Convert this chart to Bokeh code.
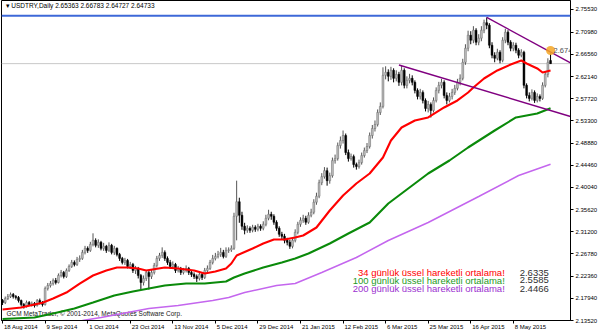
from bokeh.plotting import figure
from bokeh.models import Range1d, FixedTicker, PrintfTickFormatter, Label, Span, ColumnDataSource, LinearAxis
from bokeh.embed import file_html
from bokeh.resources import INLINE
from bokeh.core.properties import value

# ---------------- data ----------------
date_labels = ["18 Aug 2014", "9 Sep 2014", "1 Oct 2014", "23 Oct 2014", "13 Nov 2014",
               "5 Dec 2014", "29 Dec 2014", "21 Jan 2015", "12 Feb 2015", "6 Mar 2015",
               "25 Mar 2015", "16 Apr 2015", "8 May 2015"]
date_label_bars = [0, 16, 32, 48, 64, 80, 96, 112, 128, 144, 160, 176, 192]

price_ticks = [2.13520, 2.17940, 2.22360, 2.26780, 2.31200, 2.35620, 2.40040, 2.44460,
               2.48880, 2.53300, 2.57720, 2.62140, 2.66560, 2.70980, 2.75530]

opens = [
    2.175, 2.171, 2.179, 2.183, 2.187, 2.183, 2.181, 2.175, 2.167, 2.163,
    2.171, 2.167, 2.169, 2.165, 2.175, 2.171, 2.167, 2.199, 2.205, 2.209,
    2.215, 2.211, 2.225, 2.231, 2.223, 2.235, 2.243, 2.251, 2.247, 2.257,
    2.259, 2.271, 2.279, 2.275, 2.287, 2.295, 2.285, 2.291, 2.279, 2.283,
    2.275, 2.285, 2.271, 2.279, 2.267, 2.259, 2.251, 2.255, 2.243, 2.247,
    2.235, 2.239, 2.225, 2.211, 2.219, 2.231, 2.223, 2.231, 2.245, 2.259,
    2.265, 2.271, 2.259, 2.251, 2.243, 2.247, 2.235, 2.239, 2.231, 2.235,
    2.239, 2.231, 2.227, 2.223, 2.219, 2.227, 2.221, 2.235, 2.239, 2.251,
    2.259, 2.263, 2.267, 2.271, 2.263, 2.275, 2.276, 2.279, 2.343, 2.372,
    2.345, 2.323, 2.315, 2.319, 2.315, 2.321, 2.317, 2.323, 2.319, 2.327,
    2.339, 2.347, 2.343, 2.331, 2.319, 2.307, 2.303, 2.295, 2.291, 2.283,
    2.295, 2.311, 2.327, 2.335, 2.339, 2.331, 2.345, 2.351, 2.371, 2.383,
    2.410, 2.422, 2.434, 2.414, 2.424, 2.454, 2.458, 2.484, 2.494, 2.504,
    2.470, 2.458, 2.462, 2.446, 2.442, 2.450, 2.464, 2.474, 2.482, 2.504,
    2.518, 2.526, 2.550, 2.562, 2.624, 2.630, 2.622, 2.634, 2.618, 2.626,
    2.610, 2.634, 2.604, 2.614, 2.618, 2.610, 2.594, 2.582, 2.590, 2.574,
    2.558, 2.566, 2.554, 2.574, 2.594, 2.604, 2.610, 2.584, 2.574, 2.582,
    2.590, 2.598, 2.610, 2.618, 2.650, 2.678, 2.704, 2.694, 2.714, 2.690,
    2.698, 2.714, 2.729, 2.724, 2.684, 2.664, 2.658, 2.670, 2.654, 2.694,
    2.710, 2.690, 2.678, 2.684, 2.674, 2.664, 2.670, 2.604, 2.584, 2.578,
    2.590, 2.574, 2.582, 2.578, 2.604, 2.626, 2.65363]

closes = [
    2.171, 2.179, 2.183, 2.187, 2.183, 2.181, 2.175, 2.167, 2.163, 2.171,
    2.167, 2.169, 2.165, 2.175, 2.171, 2.167, 2.199, 2.205, 2.209, 2.215,
    2.211, 2.225, 2.231, 2.223, 2.235, 2.243, 2.251, 2.247, 2.257, 2.259,
    2.271, 2.279, 2.275, 2.287, 2.295, 2.285, 2.291, 2.279, 2.283, 2.275,
    2.285, 2.271, 2.279, 2.267, 2.259, 2.251, 2.255, 2.243, 2.247, 2.235,
    2.239, 2.225, 2.211, 2.219, 2.231, 2.223, 2.231, 2.245, 2.259, 2.265,
    2.271, 2.259, 2.251, 2.243, 2.247, 2.235, 2.239, 2.231, 2.235, 2.239,
    2.231, 2.227, 2.223, 2.219, 2.227, 2.221, 2.235, 2.239, 2.251, 2.259,
    2.263, 2.267, 2.271, 2.263, 2.275, 2.276, 2.279, 2.343, 2.372, 2.345,
    2.323, 2.315, 2.319, 2.315, 2.321, 2.317, 2.323, 2.319, 2.327, 2.339,
    2.347, 2.343, 2.331, 2.319, 2.307, 2.303, 2.295, 2.291, 2.283, 2.295,
    2.311, 2.327, 2.335, 2.339, 2.331, 2.345, 2.351, 2.371, 2.383, 2.410,
    2.422, 2.434, 2.414, 2.424, 2.454, 2.458, 2.484, 2.494, 2.504, 2.470,
    2.458, 2.462, 2.446, 2.442, 2.450, 2.464, 2.474, 2.482, 2.504, 2.518,
    2.526, 2.550, 2.562, 2.624, 2.630, 2.622, 2.634, 2.618, 2.626, 2.610,
    2.634, 2.604, 2.614, 2.618, 2.610, 2.594, 2.582, 2.590, 2.574, 2.558,
    2.566, 2.554, 2.574, 2.594, 2.604, 2.610, 2.584, 2.574, 2.582, 2.590,
    2.598, 2.610, 2.618, 2.650, 2.678, 2.704, 2.694, 2.714, 2.690, 2.698,
    2.714, 2.729, 2.724, 2.684, 2.664, 2.658, 2.670, 2.654, 2.694, 2.710,
    2.690, 2.678, 2.684, 2.674, 2.664, 2.670, 2.604, 2.584, 2.578, 2.590,
    2.574, 2.582, 2.578, 2.604, 2.626, 2.650, 2.64733]

highs = [
    2.178, 2.183, 2.188, 2.191, 2.190, 2.186, 2.184, 2.177, 2.170, 2.175,
    2.174, 2.173, 2.172, 2.178, 2.179, 2.174, 2.203, 2.210, 2.214, 2.219,
    2.220, 2.229, 2.236, 2.234, 2.239, 2.247, 2.256, 2.255, 2.262, 2.265,
    2.276, 2.284, 2.283, 2.292, 2.309, 2.299, 2.297, 2.294, 2.290, 2.286,
    2.291, 2.288, 2.284, 2.281, 2.270, 2.262, 2.260, 2.258, 2.252, 2.250,
    2.244, 2.242, 2.228, 2.225, 2.236, 2.235, 2.236, 2.250, 2.264, 2.270,
    2.281, 2.275, 2.263, 2.256, 2.253, 2.250, 2.244, 2.242, 2.240, 2.245,
    2.242, 2.235, 2.231, 2.227, 2.232, 2.230, 2.240, 2.245, 2.256, 2.266,
    2.270, 2.274, 2.280, 2.276, 2.281, 2.281, 2.285, 2.350, 2.414, 2.380,
    2.352, 2.330, 2.325, 2.323, 2.326, 2.325, 2.328, 2.327, 2.333, 2.346,
    2.356, 2.352, 2.347, 2.335, 2.323, 2.312, 2.308, 2.300, 2.296, 2.300,
    2.317, 2.332, 2.341, 2.346, 2.344, 2.351, 2.358, 2.377, 2.390, 2.416,
    2.429, 2.441, 2.440, 2.430, 2.460, 2.466, 2.490, 2.502, 2.514, 2.508,
    2.476, 2.468, 2.466, 2.450, 2.456, 2.470, 2.480, 2.489, 2.510, 2.525,
    2.534, 2.556, 2.570, 2.640, 2.642, 2.636, 2.641, 2.638, 2.634, 2.631,
    2.644, 2.638, 2.622, 2.627, 2.624, 2.614, 2.598, 2.597, 2.594, 2.578,
    2.573, 2.570, 2.580, 2.600, 2.611, 2.617, 2.614, 2.590, 2.589, 2.597,
    2.605, 2.617, 2.626, 2.657, 2.686, 2.713, 2.712, 2.722, 2.718, 2.706,
    2.722, 2.735, 2.7394, 2.728, 2.690, 2.670, 2.677, 2.674, 2.700, 2.717,
    2.714, 2.694, 2.690, 2.689, 2.678, 2.676, 2.673, 2.608, 2.590, 2.596,
    2.594, 2.588, 2.586, 2.610, 2.632, 2.658, 2.66783]

lows = [
    2.166, 2.168, 2.176, 2.180, 2.179, 2.177, 2.171, 2.163, 2.159, 2.161,
    2.164, 2.163, 2.161, 2.163, 2.167, 2.163, 2.165, 2.195, 2.201, 2.205,
    2.207, 2.209, 2.221, 2.219, 2.220, 2.232, 2.240, 2.243, 2.244, 2.252,
    2.256, 2.267, 2.270, 2.272, 2.283, 2.281, 2.280, 2.275, 2.274, 2.270,
    2.272, 2.267, 2.266, 2.263, 2.254, 2.247, 2.246, 2.239, 2.238, 2.230,
    2.228, 2.219, 2.196, 2.205, 2.214, 2.197, 2.218, 2.227, 2.241, 2.254,
    2.260, 2.254, 2.246, 2.238, 2.239, 2.230, 2.231, 2.226, 2.227, 2.231,
    2.226, 2.222, 2.218, 2.212, 2.215, 2.216, 2.218, 2.231, 2.236, 2.247,
    2.255, 2.259, 2.262, 2.259, 2.260, 2.270, 2.272, 2.276, 2.295, 2.330,
    2.316, 2.307, 2.310, 2.310, 2.311, 2.312, 2.313, 2.314, 2.315, 2.323,
    2.335, 2.336, 2.326, 2.314, 2.302, 2.297, 2.289, 2.285, 2.278, 2.279,
    2.291, 2.307, 2.322, 2.330, 2.326, 2.328, 2.341, 2.347, 2.366, 2.379,
    2.405, 2.418, 2.404, 2.408, 2.420, 2.448, 2.454, 2.478, 2.488, 2.465,
    2.452, 2.454, 2.440, 2.436, 2.438, 2.446, 2.460, 2.469, 2.478, 2.498,
    2.512, 2.522, 2.545, 2.558, 2.616, 2.612, 2.615, 2.610, 2.612, 2.603,
    2.604, 2.598, 2.598, 2.608, 2.604, 2.588, 2.576, 2.576, 2.568, 2.552,
    2.550, 2.540, 2.550, 2.570, 2.588, 2.598, 2.578, 2.566, 2.570, 2.576,
    2.585, 2.594, 2.604, 2.614, 2.645, 2.672, 2.686, 2.688, 2.684, 2.684,
    2.692, 2.708, 2.716, 2.678, 2.658, 2.650, 2.654, 2.648, 2.650, 2.688,
    2.684, 2.672, 2.672, 2.668, 2.658, 2.660, 2.598, 2.578, 2.572, 2.574,
    2.569, 2.570, 2.572, 2.575, 2.600, 2.620, 2.64727]

# moving averages (bar index, value)
ema34_bar = [0, 7, 12, 15, 19, 24, 29, 34, 39, 43, 47, 51, 54, 61, 66, 72, 76, 80, 84, 86, 88,
             94, 98, 102, 106, 110, 113, 118, 123, 128, 133, 138, 143, 146, 150, 155, 160, 166,
             171, 175, 177, 181, 186, 191, 195, 197, 201, 203, 206]
ema34 = [2.1571, 2.1611, 2.1671, 2.1705, 2.1790, 2.1910, 2.2089, 2.2249, 2.2349, 2.2408,
         2.2408, 2.2388, 2.2349, 2.2408, 2.2388, 2.2349, 2.2289, 2.2329, 2.2388, 2.2488,
         2.2648, 2.2787, 2.2887, 2.2967, 2.2967, 2.3007, 2.3047, 2.3206, 2.3545, 2.3844,
         2.4084, 2.4283, 2.4602, 2.4941, 2.5200, 2.5340, 2.5400, 2.5599, 2.5739, 2.5898,
         2.5998, 2.6177, 2.6337, 2.6456, 2.6536, 2.6476, 2.6377, 2.6297, 2.6335]

ema100_bar = [0, 4, 12, 19, 27, 34, 42, 49, 55, 61, 69, 76, 84, 87, 91, 98, 105, 110, 115,
              123, 130, 138, 145, 153, 160, 168, 175, 185, 193, 201, 206]
ema100 = [2.1381, 2.1391, 2.1411, 2.1491, 2.1591, 2.1710, 2.1850, 2.1930, 2.1990, 2.2050,
          2.2089, 2.2089, 2.2129, 2.2209, 2.2289, 2.2408, 2.2508, 2.2588, 2.2688, 2.2887,
          2.3087, 2.3306, 2.3685, 2.4004, 2.4283, 2.4542, 2.4801, 2.5140, 2.5400, 2.5479,
          2.5585]

ema200_bar = [22, 30, 37, 47, 55, 66, 79, 85, 91, 103, 110, 120, 133, 145, 160, 179, 194, 206]
ema200 = [2.1300, 2.1352, 2.1411, 2.1511, 2.1591, 2.1651, 2.1750, 2.1810, 2.1910, 2.2049,
          2.2089, 2.2309, 2.2608, 2.2947, 2.3306, 2.3824, 2.4243, 2.4466]

upper_trend_bar = [182, 213.5]
upper_trend = [2.7394, 2.6490]
lower_trend_bar = [149, 213.5]
lower_trend = [2.6446, 2.5419]

resistance_level = 2.74290
last_price = 2.64733
alert_price = 2.6745

legend_names = ["34 günlük üssel hareketli ortalama!",
                "100 günlük üssel hareketli ortalama!",
                "200 günlük üssel hareketli ortalama!"]
legend_values = ["2.6335", "2.5585", "2.4466"]
legend_colors = ["#ff0000", "#1e9a1e", "#9b30d0"]

# ---------------- figure ----------------
FONT = "Liberation Sans"
AXIS_PX = 6.0
X_START, X_END = -0.4, 213.5
FRAME_W = 571.0
PX_PER_BAR = FRAME_W / (X_END - X_START)

# approximate glyph advance widths (em) of Liberation Sans, to left-align date labels at ticks
_W = {" ": 0.278, "A": 0.667, "D": 0.722, "F": 0.611, "J": 0.5, "M": 0.833, "N": 0.722,
      "O": 0.778, "S": 0.667, "a": 0.556, "b": 0.556, "c": 0.5, "e": 0.556, "g": 0.556,
      "n": 0.556, "o": 0.556, "p": 0.556, "r": 0.333, "t": 0.278, "u": 0.556, "v": 0.5,
      "y": 0.5}


def text_px(s, size):
    return sum(_W.get(ch, 0.556) for ch in s) * size


n = len(closes)
idx = list(range(n))
bull = [c >= o for o, c in zip(opens, closes)]
src = ColumnDataSource(dict(
    x=idx, h=highs, l=lows,
    top=[max(o, c) for o, c in zip(opens, closes)],
    bottom=[min(o, c) for o, c in zip(opens, closes)],
    fill=["#bdbdbd" if b else "#000000" for b in bull],
    line=["#6a6a6a" if b else "#000000" for b in bull],
    wick=["#555555" if b else "#000000" for b in bull],
))

p = figure(width=600, height=333, x_range=Range1d(X_START, X_END), y_range=Range1d(2.1352, 2.7732),
           output_backend="svg", toolbar_location=None, y_axis_location="right",
           min_border_left=1, min_border_right=28, min_border_top=0, min_border_bottom=13)
p.grid.visible = False
p.outline_line_color = "black"
p.background_fill_color = "white"
p.border_fill_color = "white"

# copyright (under everything)
p.text(x=[X_START], y=[2.1492], text=["GCM MetaTrader, © 2001-2014, MetaQuotes Software Corp."],
       x_offset=5, text_font=value(FONT), text_font_size="6.5px", text_color="#202020",
       text_baseline="middle", text_align="left")

p.add_layout(Span(location=last_price, dimension="width", line_color="#c8c8c8", line_width=1,
                  level="underlay"))

p.segment(x0="x", y0="h", x1="x", y1="l", source=src, line_color="wick", line_width=1)
p.vbar(x="x", width=0.7, top="top", bottom="bottom", source=src,
       fill_color="fill", line_color="line", line_width=0.5)

p.line(ema200_bar, ema200, line_color="#c466ee", line_width=1.5)
p.line(ema100_bar, ema100, line_color="#0a8a0a", line_width=2.1)
p.line(ema34_bar, ema34, line_color="#ff0000", line_width=2.1)

p.line(upper_trend_bar, upper_trend, line_color="#800080", line_width=1.4)
p.line(lower_trend_bar, lower_trend, line_color="#800080", line_width=1.4)

p.add_layout(Span(location=resistance_level, dimension="width", line_color="#3d68d8", line_width=2))

p.scatter([n - 1], [2.6735], size=9, fill_color="#f5a623", line_color=None, fill_alpha=0.85)
p.text(x=[n - 1], y=[alert_price], text=["2.6745"], x_offset=3, text_font=value(FONT),
       text_font_size="7.5px", text_color="#505050", text_baseline="middle", text_align="left")

# header
p.text(x=[X_START], y=[2.7633], text=["▾ USDTRY,Daily  2.65363 2.66783 2.64727 2.64733"],
       x_offset=4, text_font=value(FONT), text_font_size="6.5px", text_color="#000000",
       text_baseline="middle", text_align="left")

# MA legend text
leg_y = [2.2309, 2.2150, 2.1990]
for name, val, col, yy in zip(legend_names, legend_values, legend_colors, leg_y):
    p.text(x=[188.8], y=[yy], text=[name], text_font=value(FONT), text_font_size="9.5px",
           text_color=col, text_baseline="middle", text_align="right")
    p.text(x=[194.4], y=[yy], text=[val], text_font=value(FONT), text_font_size="9.5px",
           text_color="#303030", text_baseline="middle", text_align="left")

# price axis
ya = p.yaxis[0]
ya.ticker = FixedTicker(ticks=price_ticks)
ya.formatter = PrintfTickFormatter(format="%.5f")
ya.major_label_text_font = FONT
ya.major_label_text_font_size = "6px"
ya.major_label_text_color = "#000000"
ya.major_tick_out = 3
ya.major_tick_in = 0
ya.minor_tick_out = 0
ya.minor_tick_in = 0
ya.major_label_standoff = 2
ya.axis_line_color = "black"

# time axis: tick marks only (drawn as minor ticks, so no label texts exist)
xa = p.xaxis[0]
xa.ticker = FixedTicker(ticks=[], minor_ticks=date_label_bars)
xa.major_tick_out = 0
xa.major_tick_in = 0
xa.minor_tick_out = 3
xa.minor_tick_in = 0
xa.minor_tick_line_color = "black"
xa.major_label_standoff = 0
xa.axis_line_color = "black"

# second time axis: labels only, each label centred so that it starts right at its tick
shifted = [b + (text_px(t, AXIS_PX) / 2 + 1.5) / PX_PER_BAR for b, t in zip(date_label_bars, date_labels)]
xa2 = LinearAxis(ticker=FixedTicker(ticks=shifted),
                 major_label_overrides={s: t for s, t in zip(shifted, date_labels)},
                 major_tick_out=0, major_tick_in=0, minor_tick_out=0, minor_tick_in=0,
                 axis_line_color=None, major_label_standoff=0,
                 major_label_text_font=FONT, major_label_text_font_size="6px",
                 major_label_text_color="#000000")
p.add_layout(xa2, "below")

# highlighted price labels on the scale
p.add_layout(Label(x=X_END, y=resistance_level, text="2.74290", x_offset=1,
                   text_font=FONT, text_font_size="6px", text_color="white",
                   text_baseline="middle", text_align="left",
                   background_fill_color="#3d68d8", padding=1))
p.add_layout(Label(x=X_END, y=last_price, text="2.64733", x_offset=1,
                   text_font=FONT, text_font_size="6px", text_color="white",
                   text_baseline="middle", text_align="left",
                   background_fill_color="#000000", padding=1))

open("out.html", "w").write(file_html(p, INLINE))
